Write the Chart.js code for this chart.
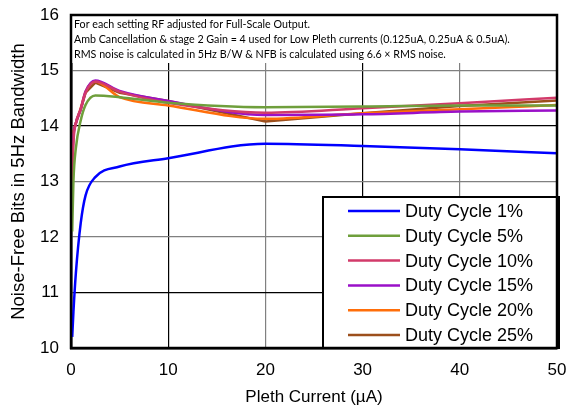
<!DOCTYPE html>
<html>
<head>
<meta charset="utf-8">
<script src="https://cdn.jsdelivr.net/npm/chart.js@4"></script>
<style>
  html, body { margin: 0; padding: 0; background: #fff; }
  #wrap { width: 570px; height: 412px; }
</style>
</head>
<body>
<div id="wrap"><canvas id="nfbChart" width="570" height="412"></canvas></div>
<script>
// pleth current points (uA)
var plethCurrent = [0.125, 0.25, 0.5, 1, 1.5, 2.5, 5, 10, 20, 30, 40, 50];

var duty1  = [10.2, 10.65, 11.35, 12.25, 12.75, 13.08, 13.27, 13.42, 13.68, 13.64, 13.58, 13.51];
var duty5  = [12.1, 13.0, 13.6, 14.1, 14.38, 14.55, 14.52, 14.42, 14.34, 14.35, 14.37, 14.37];
var duty10 = [13.0, 13.7, 14.05, 14.3, 14.6, 14.8, 14.62, 14.42, 14.24, 14.32, 14.41, 14.51];
var duty15 = [13.3, 13.8, 14.05, 14.3, 14.62, 14.82, 14.63, 14.45, 14.2, 14.21, 14.26, 14.28];
var duty20 = [13.45, 13.85, 14.05, 14.32, 14.62, 14.8, 14.52, 14.37, 14.13, 14.23, 14.3, 14.38];
var duty25 = [13.7, 13.9, 14.05, 14.3, 14.6, 14.78, 14.6, 14.45, 14.08, 14.23, 14.36, 14.46];

var seriesNames = ['Duty Cycle 1%', 'Duty Cycle 5%', 'Duty Cycle 10%', 'Duty Cycle 15%', 'Duty Cycle 20%', 'Duty Cycle 25%'];
var seriesColors = ['#0000ff', '#6f9f3c', '#d23a6a', '#9a10c8', '#ff6e0a', '#9c4f1c'];

var noteLines = [
    'For each setting RF adjusted for Full-Scale Output.',
    'Amb Cancellation & stage 2 Gain = 4 used for Low Pleth currents (0.125uA, 0.25uA & 0.5uA).',
    'RMS noise is calculated in 5Hz B/W & NFB is calculated using 6.6 \u00d7 RMS noise.'
];

var allSeries = [duty1, duty5, duty10, duty15, duty20, duty25];

function toPoints(values) {
    return values.map((v, i) => ({ x: plethCurrent[i], y: v }));
}

var datasets = allSeries.map((vals, i) => ({
    label: seriesNames[i],
    data: toPoints(vals),
    borderColor: seriesColors[i],
    backgroundColor: seriesColors[i],
    borderWidth: 2.5,
    pointRadius: 0,
    fill: false,
    tension: i === 5 ? 0 : 0.4,
    cubicInterpolationMode: i === 5 ? 'default' : 'monotone'
}));

// white note box at the top + boxed legend lower right + frame
var overlayPlugin = {
    id: 'overlay',
    afterDatasetsDraw(chart) {
        const c = chart.ctx;
        const area = chart.chartArea;
        c.save();

        // note box
        c.fillStyle = '#fff';
        c.fillRect(area.left, area.top, area.right - area.left, 48);
        c.fillStyle = '#000';
        c.font = '10.7px Lato';
        c.textBaseline = 'middle';
        c.textAlign = 'left';
        noteLines.forEach((t, i) => c.fillText(t, area.left + 3, area.top + 10 + i * 15));

        // legend box
        const lx = 323, ly = 197, lw = area.right - 323 + 2, lh = area.bottom - 197;
        c.fillStyle = '#fff';
        c.fillRect(lx, ly, lw, lh);
        c.strokeStyle = '#000';
        c.lineWidth = 2;
        c.strokeRect(lx, ly, lw, lh);
        c.font = '18px "Liberation Sans"';
        chart.data.datasets.forEach((ds, i) => {
            const y = 211 + i * 24.8;
            c.strokeStyle = ds.borderColor;
            c.lineWidth = 2.5;
            c.beginPath();
            c.moveTo(348, y);
            c.lineTo(400, y);
            c.stroke();
            c.fillStyle = '#000';
            c.fillText(ds.label, 405, y + 1);
        });

        // frame
        c.strokeStyle = '#000';
        c.lineWidth = 2.5;
        c.strokeRect(area.left, area.top, area.right - area.left, area.bottom - area.top);
        c.restore();
    }
};

var ctx = document.getElementById('nfbChart').getContext('2d');

var nfbChart = new Chart(ctx, {
    type: 'line',
    data: { datasets: datasets },
    options: {
        responsive: false,
        animation: false,
        layout: { padding: { top: 15, right: 13, left: 0, bottom: 0 } },
        plugins: {
            legend: { display: false },
            tooltip: { enabled: false }
        },
        scales: {
            x: {
                type: 'linear',
                min: 0,
                max: 50,
                ticks: {
                    stepSize: 10,
                    color: '#000',
                    padding: 12,
                    font: { family: 'Liberation Sans', size: 17 }
                },
                grid: {
                    drawTicks: false,
                    lineWidth: 1.2,
                    color: c => (c.tick && (c.tick.value === 20 || c.tick.value === 40)) ? '#808080' : '#000'
                },
                border: { color: '#000', width: 2.5 },
                title: {
                    display: true,
                    text: 'Pleth Current (\u00b5A)',
                    color: '#000',
                    font: { family: 'Liberation Sans', size: 17 },
                    padding: { top: 4, bottom: 4 }
                },
                afterFit: s => { s.height = 64; s.paddingLeft = 0; s.paddingRight = 0; }
            },
            y: {
                min: 10,
                max: 16,
                ticks: {
                    stepSize: 1,
                    color: '#000',
                    padding: 12,
                    font: { family: 'Liberation Sans', size: 17 }
                },
                grid: {
                    drawTicks: false,
                    lineWidth: 1.2,
                    color: c => (c.tick && (c.tick.value === 11 || c.tick.value === 14)) ? '#000' : '#808080'
                },
                border: { color: '#000', width: 2.5 },
                title: {
                    display: true,
                    text: 'Noise-Free Bits in 5Hz Bandwidth',
                    color: '#000',
                    font: { family: 'Liberation Sans', size: 18.5 },
                    padding: { top: 8, bottom: 0 }
                },
                afterFit: s => { s.width = 71; s.paddingTop = 0; s.paddingBottom = 0; }
            }
        }
    },
    plugins: [overlayPlugin]
});
</script>
</body>
</html>
